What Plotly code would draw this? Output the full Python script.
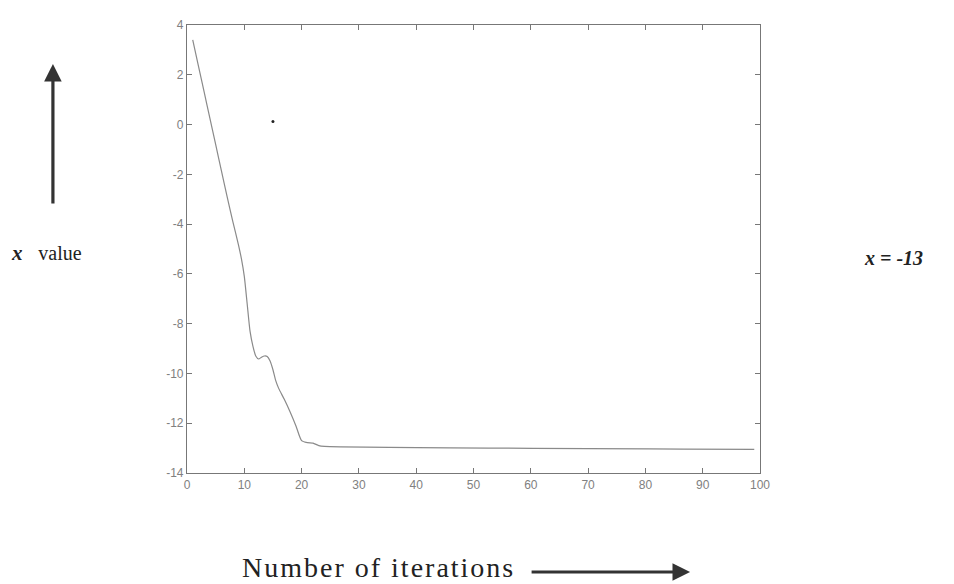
import plotly.graph_objects as go

# ---- data ----
iterations = [1, 2, 3, 4, 5, 6, 7, 8, 9, 9.5, 10, 10.5, 11, 11.5, 12, 12.5, 13, 13.5, 14,
              14.5, 15, 15.5, 16, 17, 18, 19, 20, 21, 22, 23, 24, 99]
x_value = [3.4, 2.35, 1.3, 0.25, -0.8, -1.85, -2.9, -3.9, -4.85, -5.4, -6.1, -7.2, -8.3, -8.9,
           -9.3, -9.42, -9.35, -9.3, -9.32, -9.5, -9.85, -10.3, -10.6, -11.05, -11.55,
           -12.1, -12.7, -12.78, -12.8, -12.9, -12.93, -13.05]
speck_x = [15.0]
speck_y = [0.12]
x_ticks = [0, 10, 20, 30, 40, 50, 60, 70, 80, 90, 100]
y_ticks = [4, 2, 0, -2, -4, -6, -8, -10, -12, -14]
y_tick_labels = ["4", "2", "0", "-2", "-4", "-6", "-8", "-10", "-12", "-14"]

fig = go.Figure()
fig.add_trace(go.Scatter(x=iterations, y=x_value, mode="lines", line_shape="spline",
                         line=dict(color="#8a8a8a", width=1.2, smoothing=0.6), showlegend=False))
fig.add_trace(go.Scatter(x=speck_x, y=speck_y, mode="markers",
                         marker=dict(color="#222", size=3), showlegend=False))

axis_common = dict(showline=True, linecolor="#777", linewidth=1.2, mirror="ticks",
                   ticks="inside", ticklen=5, tickcolor="#777", showgrid=False,
                   zeroline=False, tickfont=dict(family="Liberation Sans Narrow, Arial", size=12, color="#808080"))

fig.update_xaxes(range=[0, 100], tickvals=x_ticks, **axis_common)
fig.update_yaxes(range=[-14, 4], tickvals=y_ticks, ticktext=y_tick_labels, **axis_common)

serif = "Liberation Serif, Times New Roman, serif"
annotations = [
    dict(xref="paper", yref="paper", x=-0.234, y=0.913, ax=0, ay=141,
         text="", showarrow=True, arrowhead=2, arrowsize=1.1, arrowwidth=3.2, arrowcolor="#333"),
    dict(xref="paper", yref="paper", x=0.878, y=-0.221, ax=-160, ay=0,
         text="", showarrow=True, arrowhead=2, arrowsize=1.1, arrowwidth=3.2, arrowcolor="#333"),
    dict(xref="paper", yref="paper", x=-0.31, y=0.491, xanchor="left", yanchor="middle",
         text="<b><i>x</i></b>&nbsp;&nbsp;&nbsp;<span style='font-size:20px'>value</span>", showarrow=False,
         font=dict(family=serif, size=21, color="#222")),
    dict(xref="paper", yref="paper", x=1.178, y=0.48, xanchor="left", yanchor="middle",
         text="<b><i>x = -13</i></b>", showarrow=False,
         font=dict(family=serif, size=20, color="#222")),
    dict(xref="paper", yref="paper", x=0.0925, y=-0.21, xanchor="left", yanchor="middle",
         text="<span style='letter-spacing:2px'>Number of iterations</span>", showarrow=False,
         font=dict(family=serif, size=28, color="#222")),
]

fig.update_layout(width=954, height=584, margin=dict(l=187, r=194, t=25, b=111),
                  paper_bgcolor="white", plot_bgcolor="white", annotations=annotations)

fig.write_html("out.html")
